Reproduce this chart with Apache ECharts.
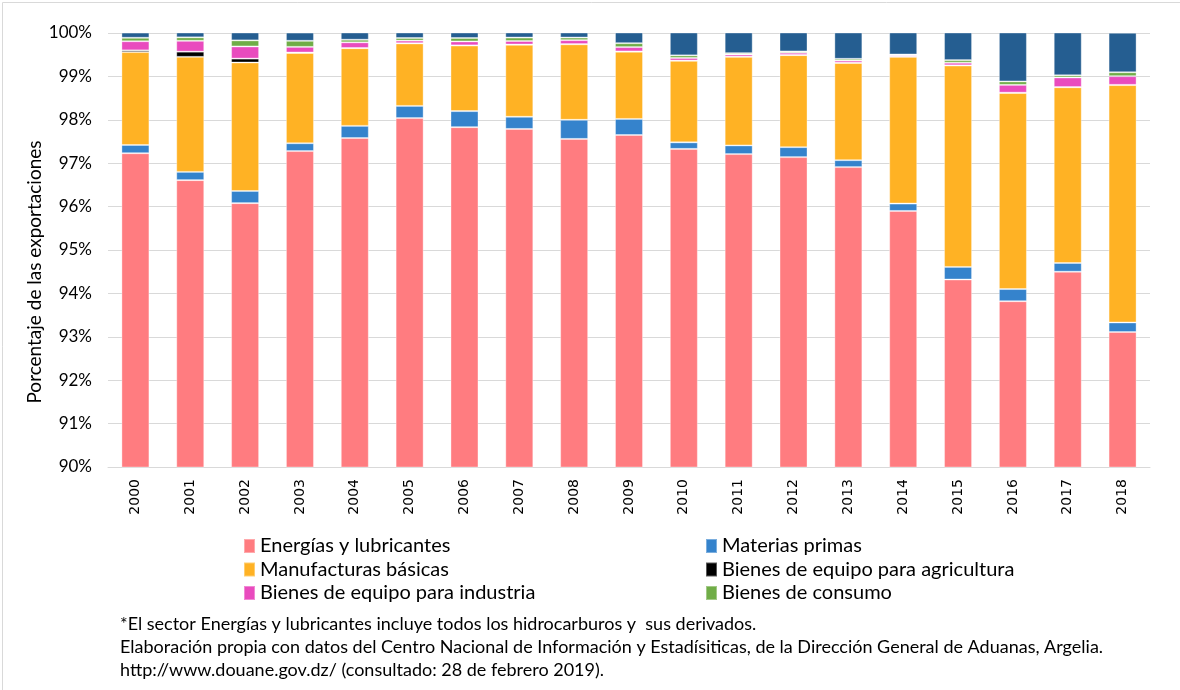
<!DOCTYPE html>
<html>
<head>
<meta charset="utf-8">
<script src="https://cdn.jsdelivr.net/npm/echarts@6/dist/echarts.min.js"></script>
<style>
  html, body { margin: 0; padding: 0; background: #fff; }
  #main { width: 1180px; height: 690px; }
</style>
</head>
<body>
<div id="main"></div>
<script>
// años
var years = ["2000", "2001", "2002", "2003", "2004", "2005", "2006", "2007", "2008", "2009",
  "2010", "2011", "2012", "2013", "2014", "2015", "2016", "2017", "2018"];

// porcentaje de cada sector (%)
var energias = [97.23, 96.61, 96.08, 97.28, 97.58, 98.04, 97.83, 97.79, 97.56, 97.65,
  97.33, 97.21, 97.14, 96.91, 95.90, 94.32, 93.82, 94.50, 93.11];
var materias = [0.19, 0.19, 0.28, 0.18, 0.28, 0.28, 0.37, 0.28, 0.44, 0.37,
  0.15, 0.20, 0.23, 0.16, 0.17, 0.29, 0.28, 0.20, 0.22];
var manufacturas = [2.14, 2.65, 2.96, 2.08, 1.79, 1.44, 1.51, 1.66, 1.74, 1.55,
  1.88, 2.04, 2.12, 2.24, 3.38, 4.64, 4.52, 4.05, 5.47];
var agricultura = [0.04, 0.12, 0.09, 0.01, 0.005, 0.005, 0.005, 0.005, 0.005, 0.005,
  0.005, 0.005, 0.005, 0.005, 0.005, 0.005, 0.005, 0.005, 0.005];
var industria = [0.21, 0.25, 0.28, 0.13, 0.13, 0.06, 0.09, 0.08, 0.09, 0.10,
  0.06, 0.05, 0.05, 0.05, 0.03, 0.06, 0.18, 0.22, 0.20];
var consumo = [0.08, 0.08, 0.14, 0.14, 0.06, 0.06, 0.08, 0.08, 0.06, 0.09,
  0.06, 0.03, 0.03, 0.04, 0.02, 0.06, 0.08, 0.05, 0.09];
var otros = [0.12, 0.12, 0.19, 0.19, 0.18, 0.14, 0.14, 0.14, 0.14, 0.25,
  0.54, 0.49, 0.45, 0.62, 0.51, 0.66, 1.14, 1.00, 0.91];

var yTicks = { min: 90, max: 100, step: 1 };

var font = "Lato, 'Open Sans', sans-serif";

function serie(name, data, color) {
  return {
    name: name,
    type: "bar",
    stack: "total",
    barWidth: 28,
    data: data,
    itemStyle: { color: color, borderColor: "rgba(255,255,255,0.35)", borderWidth: 1 },
    emphasis: { disabled: true }
  };
}

var chart = echarts.init(document.getElementById("main"));

var legendText = { fontSize: 20, color: "#000", fontFamily: font };

chart.setOption({
  animation: false,
  textStyle: { fontFamily: font },
  grid: { left: 108, right: 30, top: 33, bottom: 223 },
  legend: [
    {
      orient: "vertical",
      left: 238, top: 531,
      itemWidth: 11, itemHeight: 14, itemGap: 3.5,
      icon: "rect",
      textStyle: legendText,
      data: ["Energías y lubricantes", "Manufacturas básicas", "Bienes de equipo para industria"]
    },
    {
      orient: "vertical",
      left: 700, top: 531,
      itemWidth: 11, itemHeight: 14, itemGap: 3.5,
      icon: "rect",
      textStyle: legendText,
      data: ["Materias primas", "Bienes de equipo para agricultura", "Bienes de consumo"]
    }
  ],
  xAxis: {
    type: "category",
    data: years,
    axisTick: { show: false },
    axisLine: { lineStyle: { color: "#D9D9D9" } },
    axisLabel: { rotate: 90, fontSize: 14, color: "#000", margin: 12, fontFamily: "'DejaVu Sans', sans-serif" }
  },
  yAxis: {
    type: "value",
    min: yTicks.min,
    max: yTicks.max,
    interval: yTicks.step,
    name: "Porcentaje de las exportaciones",
    nameLocation: "middle",
    nameGap: 64,
    nameMoveOverlap: false,
    nameTextStyle: { fontSize: 19, color: "#000", fontFamily: font, padding: [0, 44, 0, 0] },
    axisLine: { show: false },
    axisTick: { show: false },
    axisLabel: { formatter: "{value}%", fontSize: 17, color: "#000", margin: 16 },
    splitLine: { lineStyle: { color: "#D9D9D9" } }
  },
  series: [
    serie("Energías y lubricantes", energias, "#FF7C80"),
    serie("Materias primas", materias, "#3583CC"),
    serie("Manufacturas básicas", manufacturas, "#FFB224"),
    serie("Bienes de equipo para agricultura", agricultura, "#000000"),
    serie("Bienes de equipo para industria", industria, "#E94BBE"),
    serie("Bienes de consumo", consumo, "#70AD47"),
    serie("Otros", otros, "#255E91")
  ],
  graphic: [
    {
      type: "rect", left: 0, top: 0,
      shape: { width: 1179, height: 689 },
      style: { fill: "none", stroke: "#D9D9D9", lineWidth: 1 }
    },
    {
      type: "text", left: 120, top: 615,
      style: { text: "*El sector Energías y lubricantes incluye todos los hidrocarburos y  sus derivados.", fontSize: 18, fill: "#000", fontFamily: font }
    },
    {
      type: "text", left: 120, top: 638,
      style: { text: "Elaboración propia con datos del Centro Nacional de Información y Estadísiticas, de la Dirección General de Aduanas, Argelia.", fontSize: 18, fill: "#000", fontFamily: font }
    },
    {
      type: "text", left: 120, top: 661,
      style: { text: "http://www.douane.gov.dz/ (consultado: 28 de febrero 2019).", fontSize: 18, fill: "#000", fontFamily: font }
    }
  ]
});
</script>
</body>
</html>
